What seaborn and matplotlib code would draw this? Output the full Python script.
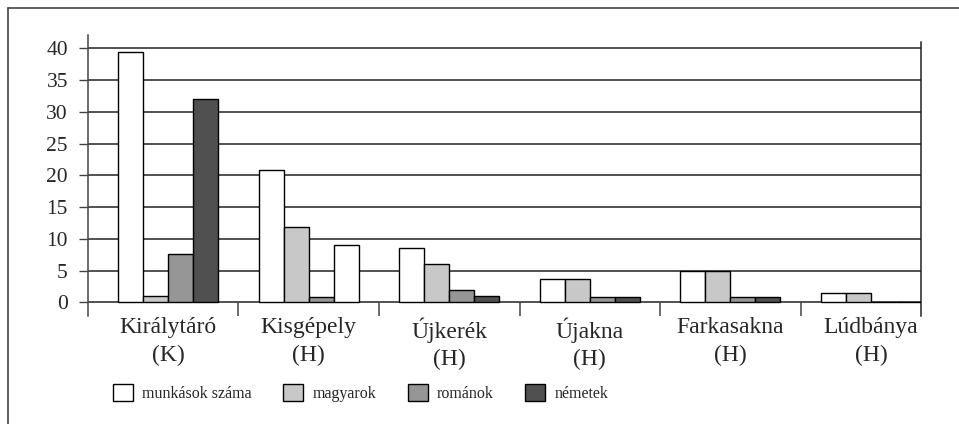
import matplotlib
matplotlib.use("Agg")
import matplotlib.pyplot as plt
from matplotlib.lines import Line2D
import pandas as pd
import seaborn as sns

# adatok
telepek = ["Királytáró\n(K)", "Kisgépely\n(H)", "Újkerék\n(H)",
           "Újakna\n(H)", "Farkasakna\n(H)", "Lúdbánya\n(H)"]
csoportok = ["munkások száma", "magyarok", "románok", "németek"]
munkasok = [39.5, 20.9, 8.6, 3.7, 4.9, 1.5]
magyarok = [1.0, 11.9, 6.1, 3.7, 4.9, 1.5]
romanok = [7.7, 0.8, 2.0, 0.8, 0.8, 0.0]
nemetek = [32.1, 9.1, 1.0, 0.8, 0.8, 0.0]
szinek = ["#ffffff", "#c8c8c8", "#969696", "#505050"]

rows = []
for nev, vals in zip(csoportok, [munkasok, magyarok, romanok, nemetek]):
    for t, v in zip(telepek, vals):
        rows.append({"telep": t, "csoport": nev, "ertek": v})
df = pd.DataFrame(rows)

sns.set_style("white")
plt.rcParams["font.family"] = ["Liberation Serif", "DejaVu Serif"]

fig = plt.figure(figsize=(9.59, 4.24), dpi=100)
ax = fig.add_axes([0.0918, 0.2552, 0.8686, 0.6634])

sns.barplot(data=df, x="telep", y="ertek", hue="csoport", hue_order=csoportok,
            palette=szinek, width=0.711, edgecolor="black", linewidth=1.0,
            saturation=1, errorbar=None, ax=ax, zorder=3)

# Kisgépely németek oszlopa a forrásban fehér
for p, (c, t) in zip(ax.patches, [(c, t) for c in csoportok for t in telepek]):
    if c == "németek" and t.startswith("Kisgépely"):
        p.set_facecolor("white")

ax.set_ylim(-2.1, 42.2)
ax.set_xlim(-0.569, 5.356)
ax.set_yticks(range(0, 41, 5))
ax.yaxis.grid(True, color="#222222", linewidth=1.1, zorder=0)
ax.set_axisbelow(True)
ax.vlines([i + 0.5 for i in range(5)], -2.1, 0, color="#444444", linewidth=1.1)

for s in ["top", "bottom"]:
    ax.spines[s].set_visible(False)
ax.spines["left"].set_color("#444444")
ax.spines["right"].set_color("#222222")
ax.spines["right"].set_bounds(-2.1, 41.0)
for s in ["left", "right"]:
    ax.spines[s].set_linewidth(1.1)

ax.tick_params(axis="y", direction="out", length=6.5, width=1.0, color="#444444",
               pad=8, labelsize=15.5, left=True)
ax.tick_params(axis="x", length=0, pad=1, labelsize=17)
for lab in ax.get_xticklabels():
    lab.set_linespacing(1.4)
ax.set_xlabel("")
ax.set_ylabel("")

sns.move_legend(ax, "center left", bbox_to_anchor=(0.106, 0.073),
                bbox_transform=fig.transFigure, ncol=4, frameon=False,
                title=None, fontsize=11.5, handlelength=1.25, handleheight=1.3,
                handletextpad=0.6, columnspacing=1.95, borderpad=0.2)
for h in ax.get_legend().legend_handles:
    h.set_edgecolor("black")
    h.set_linewidth(1.0)

# keret a kép körül
fig.add_artist(Line2D([8 / 959, 8 / 959], [0, 1 - 8 / 424], color="#444444", lw=1.2))
fig.add_artist(Line2D([8 / 959, 1], [1 - 8 / 424, 1 - 8 / 424], color="#444444", lw=1.2))

fig.savefig("out.png", dpi=100)
